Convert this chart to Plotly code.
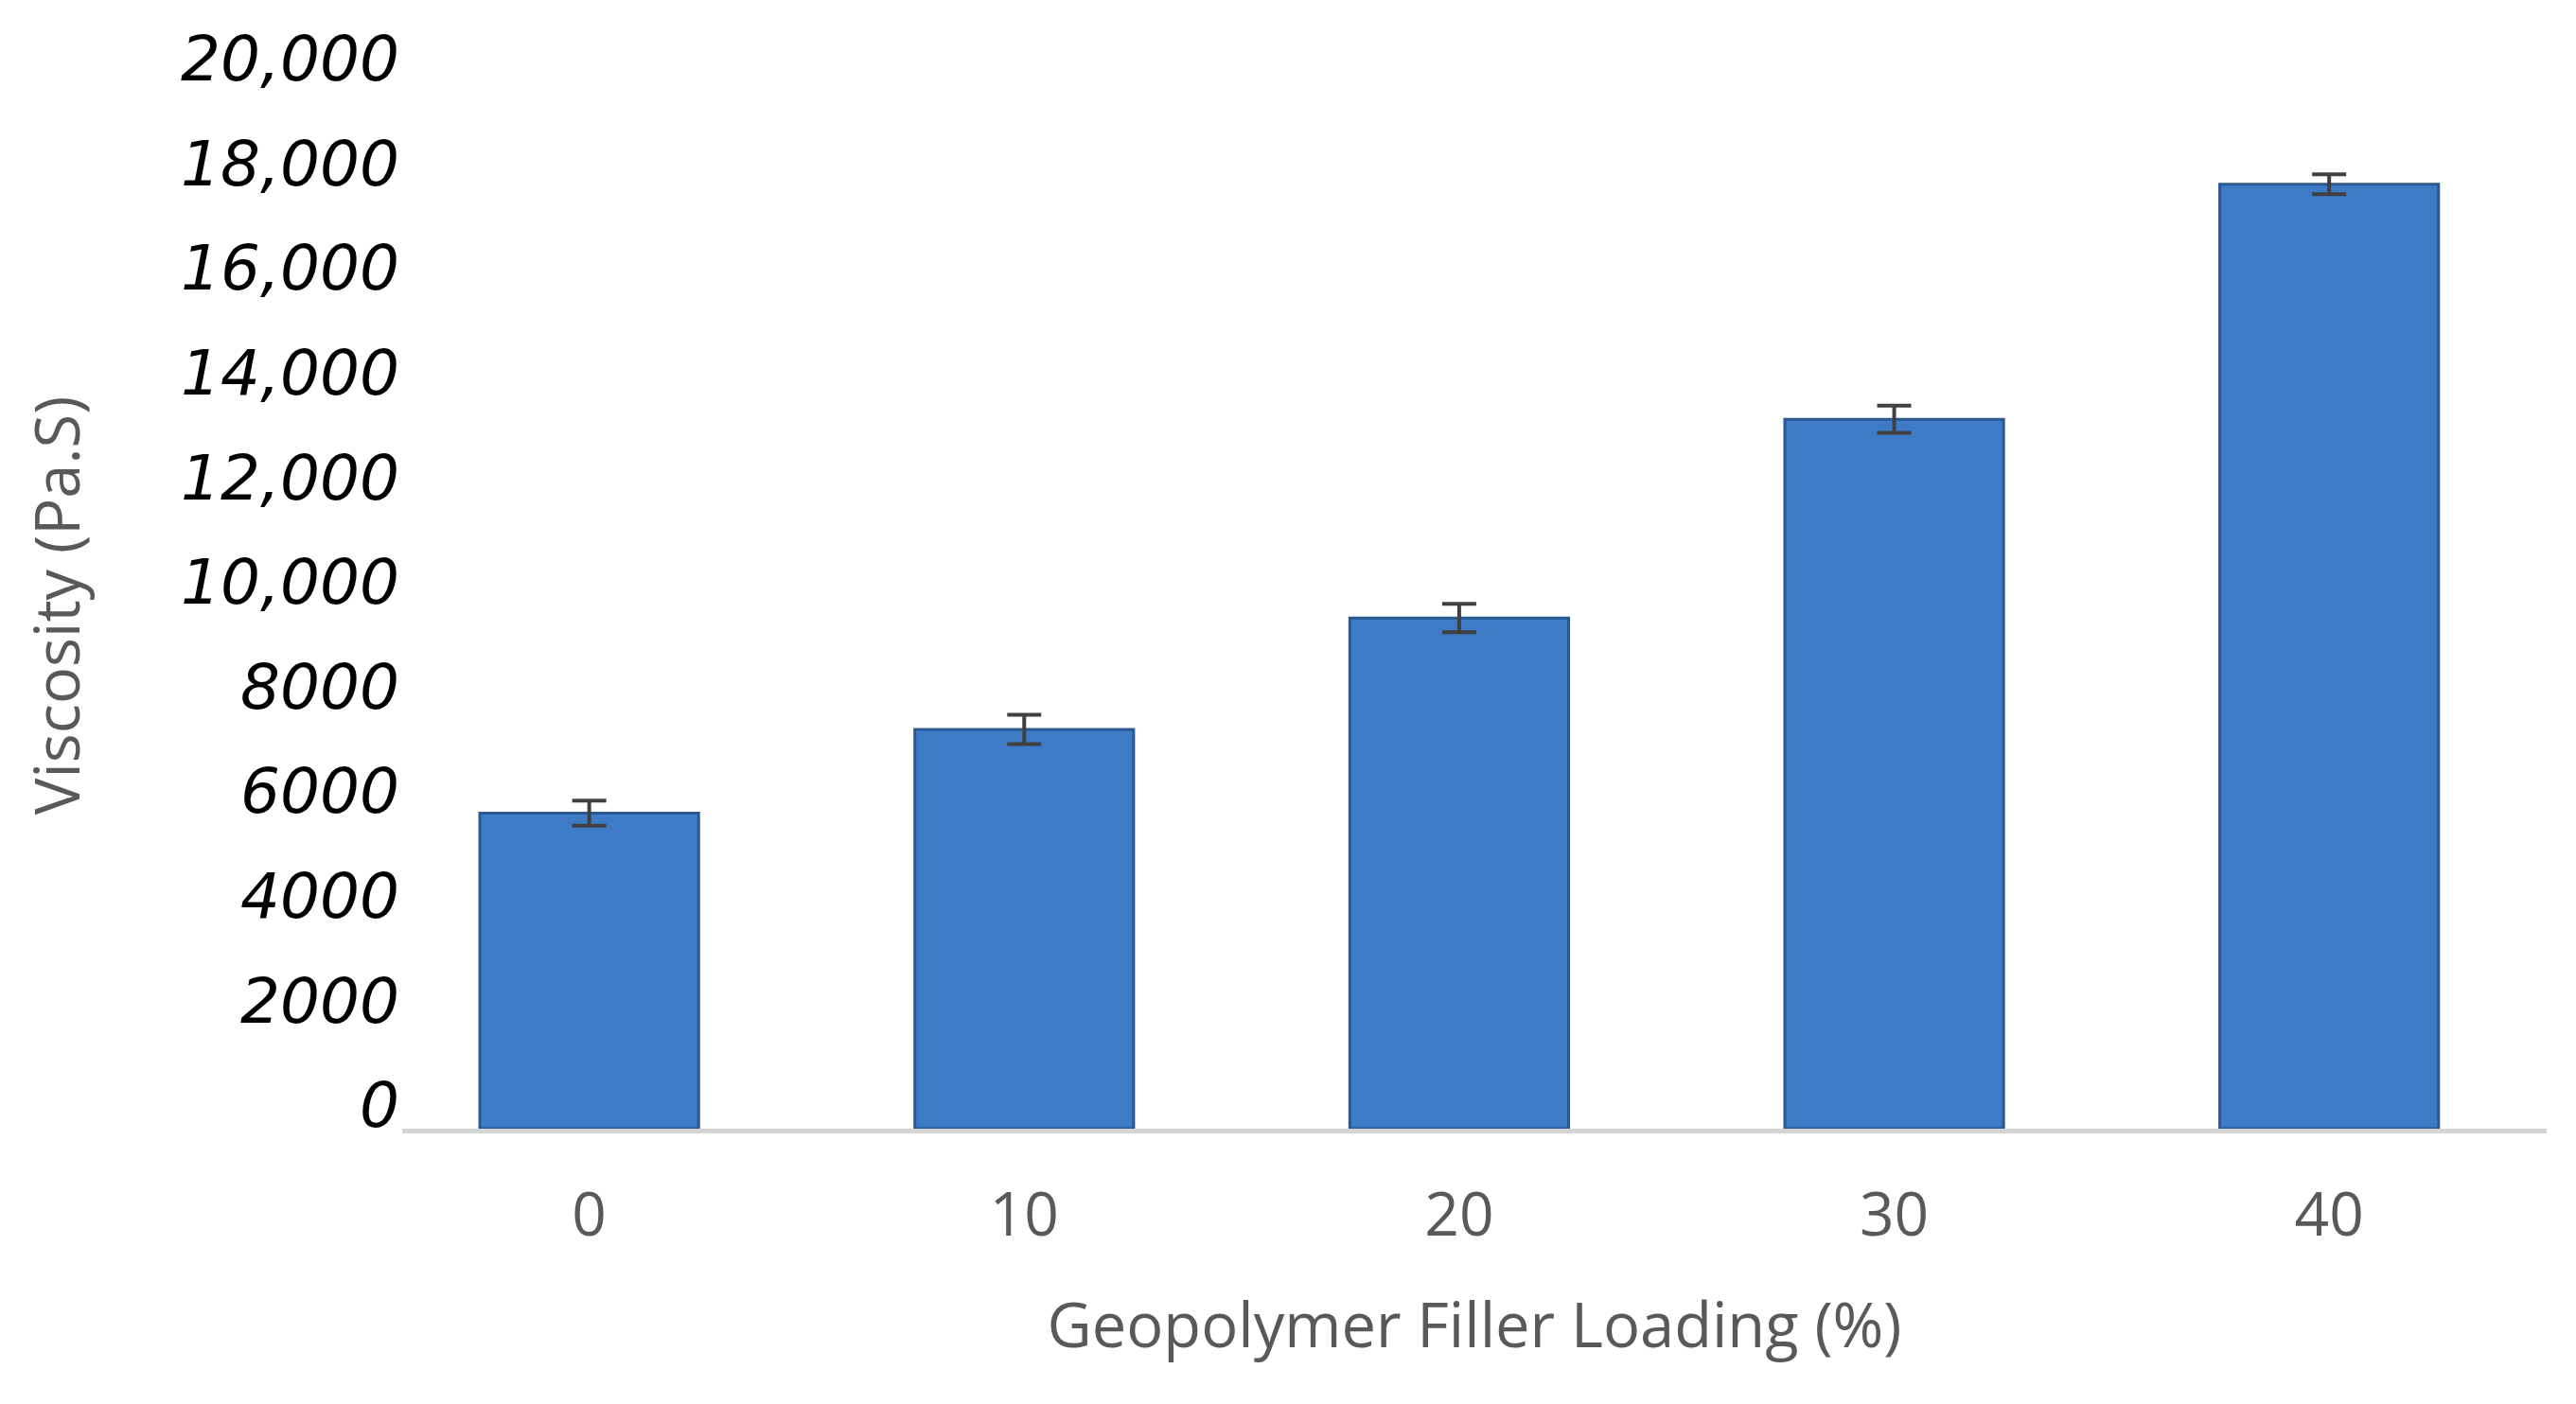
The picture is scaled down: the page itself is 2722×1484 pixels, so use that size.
import plotly.graph_objects as go

categories = ["0", "10", "20", "30", "40"]
viscosity = [6030, 7630, 9760, 13560, 18050]
errors = [240, 280, 270, 260, 190]
y_tickvals = [0, 2000, 4000, 6000, 8000, 10000, 12000, 14000, 16000, 18000, 20000]
y_ticktext = ["0", "2000", "4000", "6000", "8000", "10,000", "12,000", "14,000",
              "16,000", "18,000", "20,000"]

fig = go.Figure()
fig.add_trace(go.Bar(
    x=categories,
    y=viscosity,
    marker=dict(color="#3d7bc6", line=dict(color="#2a5891", width=3)),
    error_y=dict(type="data", array=errors, visible=True,
                 color="#404040", thickness=4, width=18),
    width=0.503,
))

fig.update_layout(
    width=2722, height=1484,
    margin=dict(l=417, r=39, t=79, b=299),
    paper_bgcolor="white", plot_bgcolor="white",
    showlegend=False,
    xaxis=dict(
        type="category",
        range=[-0.43, 4.5],
        showline=True, linecolor="#d4d4d4", linewidth=5,
        showgrid=False, zeroline=False,
        ticks="", ticklabelstandoff=31,
        tickfont=dict(family="Open Sans", size=64, color="#595959"),
        title=dict(text="Geopolymer Filler Loading (%)",
                   font=dict(family="Open Sans", size=65, color="#595959"),
                   standoff=56),
    ),
    yaxis=dict(
        range=[0, 20000],
        tickvals=y_tickvals, ticktext=y_ticktext,
        showline=False, showgrid=False, zeroline=False,
        ticks="", ticklabelstandoff=2, ticklabelshift=-25,
        tickfont=dict(family="DejaVu Sans", size=66, color="black", style="italic"),
        title=dict(text="Viscosity (Pa.S)",
                   font=dict(family="Open Sans", size=65, color="#595959"),
                   standoff=85),
    ),
)

fig.write_html("out.html")
